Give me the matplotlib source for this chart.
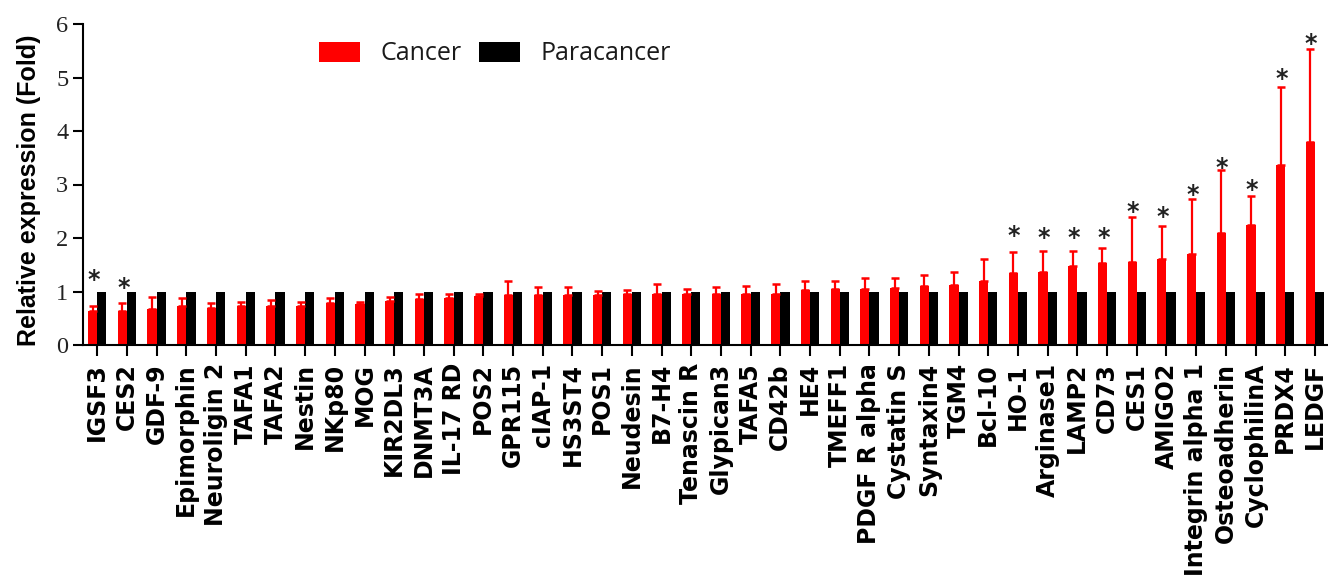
import matplotlib
matplotlib.use("Agg")
import matplotlib.pyplot as plt
import matplotlib.transforms as mtransforms
from matplotlib.patches import Patch
import numpy as np

categories = ["IGSF3", "CES2", "GDF-9", "Epimorphin", "Neuroligin 2", "TAFA1", "TAFA2",
              "Nestin", "NKp80", "MOG", "KIR2DL3", "DNMT3A", "IL-17 RD", "POS2", "GPR115",
              "cIAP-1", "HS3ST4", "POS1", "Neudesin", "B7-H4", "Tenascin R", "Glypican3",
              "TAFA5", "CD42b", "HE4", "TMEFF1", "PDGF R alpha", "Cystatin S", "Syntaxin4",
              "TGM4", "Bcl-10", "HO-1", "Arginase1", "LAMP2", "CD73", "CES1", "AMIGO2",
              "Integrin alpha 1", "Osteoadherin", "CyclophilinA", "PRDX4", "LEDGF"]

cancer = [0.64, 0.64, 0.67, 0.72, 0.70, 0.72, 0.72, 0.72, 0.78, 0.77, 0.82, 0.86, 0.88,
          0.92, 0.93, 0.93, 0.93, 0.93, 0.95, 0.95, 0.95, 0.95, 0.95, 0.95, 1.02, 1.04,
          1.04, 1.07, 1.11, 1.13, 1.20, 1.35, 1.37, 1.48, 1.53, 1.55, 1.61, 1.70, 2.09,
          2.24, 3.36, 3.80]

cancer_err = [0.09, 0.15, 0.23, 0.15, 0.09, 0.09, 0.13, 0.09, 0.09, 0.04, 0.08, 0.09, 0.07,
              0.03, 0.27, 0.15, 0.15, 0.08, 0.08, 0.19, 0.10, 0.13, 0.15, 0.19, 0.18, 0.16,
              0.22, 0.19, 0.19, 0.23, 0.41, 0.39, 0.39, 0.28, 0.28, 0.84, 0.62, 1.02, 1.18,
              0.55, 1.47, 1.73]

paracancer = [1.0, 1.0, 1.0, 1.0, 1.0, 1.0, 1.0, 1.0, 1.0, 1.0, 1.0, 1.0, 1.0, 1.0,
              1.0, 1.0, 1.0, 1.0, 1.0, 1.0, 1.0, 1.0, 1.0, 1.0, 1.0, 1.0, 1.0, 1.0,
              1.0, 1.0, 1.0, 1.0, 1.0, 1.0, 1.0, 1.0, 1.0, 1.0, 1.0, 1.0, 1.0, 1.0]

# significance star heights (nan = no star)
nan = float("nan")
star_y = [1.33, 1.18, nan, nan, nan, nan, nan, nan, nan, nan, nan, nan, nan, nan,
          nan, nan, nan, nan, nan, nan, nan, nan, nan, nan, nan, nan, nan, nan,
          nan, nan, nan, 2.16, 2.11, 2.11, 2.11, 2.60, 2.51, 2.92, 3.43, 3.01, 5.08, 5.74]

y_ticks = [0, 1, 2, 3, 4, 5, 6]
series_names = ["Cancer", "Paracancer"]

W, H = 1328, 583
fig = plt.figure(figsize=(W / 100, H / 100), dpi=100)
ax = fig.add_axes([83 / W, 1 - 345 / H, 1 - 83 / W, (345 - 24) / H])

x = np.arange(len(categories))
bw = 0.31
lower = np.zeros(len(cancer_err))
ax.bar(x, cancer, width=-bw, align="edge", color="#ff0000", linewidth=0,
       yerr=[lower, cancer_err],
       error_kw=dict(ecolor="#ff0000", elinewidth=1.6, capsize=2.6, capthick=1.8))
ax.bar(x, paracancer, width=bw, align="edge", color="#000000", linewidth=0)

# stars
star_off = mtransforms.offset_copy(ax.transData, fig=fig, x=0, y=-9.5, units="points")
for xi, sy in zip(x, star_y):
    if not np.isnan(sy):
        ax.text(xi - bw / 2 + 0.03, sy, "*", transform=star_off, ha="center", va="baseline",
                fontsize=17, color="#222222", family="DejaVu Sans", weight="bold")

ax.set_xlim(-0.48, 41.44)
ax.set_ylim(0, 6)
ax.set_yticks(y_ticks)
ax.set_yticklabels([str(t) for t in y_ticks], family="Liberation Serif", fontsize=17.5,
                   color="#222222")
ax.set_xticks(x)
ax.set_xticklabels(categories, rotation=90, family="DejaVu Sans", weight="bold",
                   fontsize=17, color="#000000")

for s in ["top", "right"]:
    ax.spines[s].set_visible(False)
for s in ["left", "bottom"]:
    ax.spines[s].set_linewidth(1.5)
    ax.spines[s].set_color("#000000")
ax.tick_params(axis="y", length=7.5, width=1.5, pad=3)
ax.tick_params(axis="x", length=8, width=1.5, pad=5)

ax.set_ylabel("Relative expression (Fold)", family=["Liberation Sans", "DejaVu Sans"],
              weight="bold", fontsize=18, va="center")
ax.yaxis.set_label_coords((29 - 83) / 1245, (345 - 190) / 321)

handles = [Patch(facecolor="#ff0000", edgecolor="none"),
           Patch(facecolor="#000000", edgecolor="none")]
leg = ax.legend(handles, series_names, ncol=2, frameon=False, loc="center left",
                bbox_to_anchor=(319 / W, 1 - 54 / H), bbox_transform=fig.transFigure,
                prop=dict(family="Open Sans", size=18), handlelength=1.65, handleheight=0.9,
                handletextpad=0.8, columnspacing=0.7, borderpad=0, borderaxespad=0)
for t in leg.get_texts():
    t.set_color("#1a1a1a")

fig.savefig("out.png", dpi=100)
